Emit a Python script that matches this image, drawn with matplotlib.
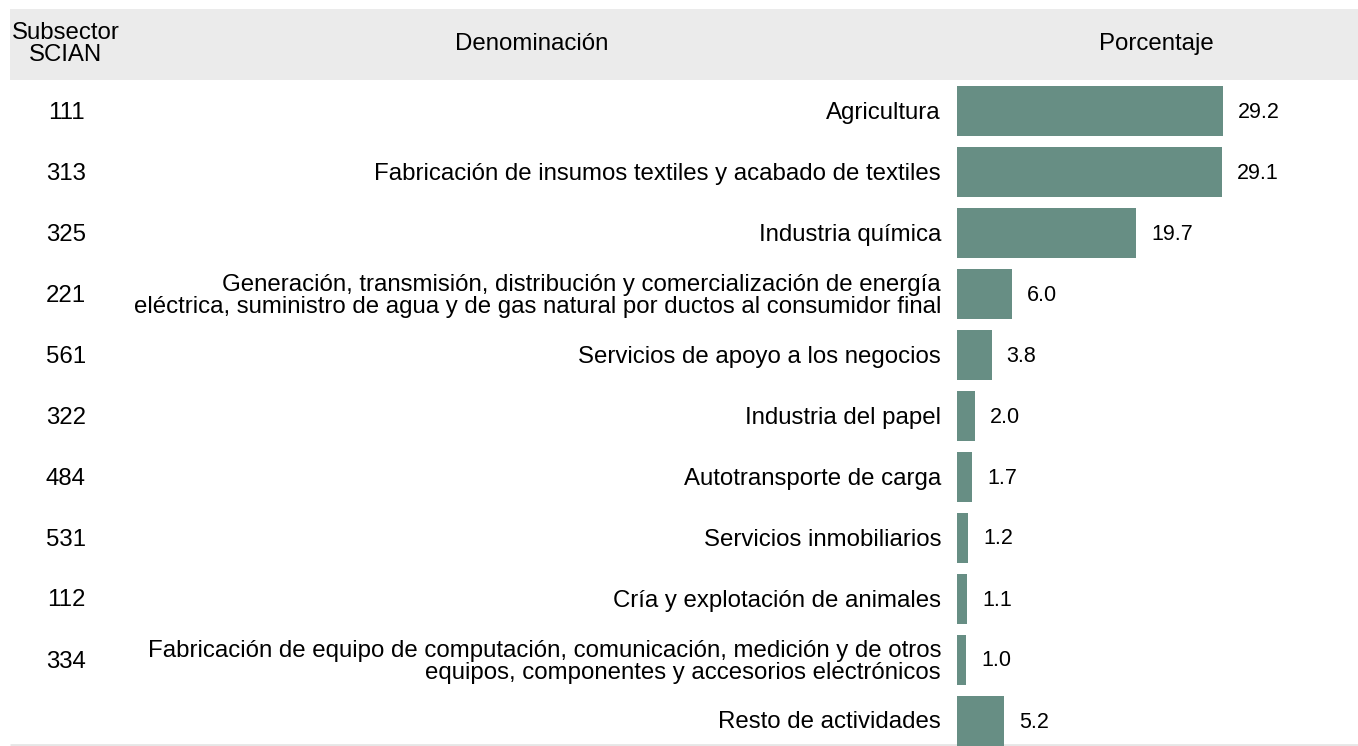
import matplotlib.pyplot as plt
import matplotlib.transforms as mtransforms
from matplotlib.patches import Rectangle

plt.rcParams['font.family'] = ['Liberation Sans', 'DejaVu Sans']

codes = ["111", "313", "325", "221", "561", "322", "484", "531", "112", "334", ""]
names = [
    "Agricultura",
    "Fabricación de insumos textiles y acabado de textiles",
    "Industria química",
    "Generación, transmisión, distribución y comercialización de energía\n"
    "eléctrica, suministro de agua y de gas natural por ductos al consumidor final",
    "Servicios de apoyo a los negocios",
    "Industria del papel",
    "Autotransporte de carga",
    "Servicios inmobiliarios",
    "Cría y explotación de animales",
    "Fabricación de equipo de computación, comunicación, medición y de otros\n"
    "equipos, componentes y accesorios electrónicos",
    "Resto de actividades",
]
values = [29.2, 29.1, 19.7, 6.0, 3.8, 2.0, 1.7, 1.2, 1.1, 1.0, 5.2]
headers = ["Subsector\nSCIAN", "Denominación", "Porcentaje"]

W, H = 1358, 746
bar_color = "#678e84"
fs = 17.3      # labels and headers
fs_val = 15.5  # value labels

fig = plt.figure(figsize=(W / 100, H / 100), dpi=100)

# background layer in pixel units
bg = fig.add_axes([0, 0, 1, 1])
bg.set_xlim(0, W)
bg.set_ylim(H, 0)
bg.axis("off")
bg.add_patch(Rectangle((10, 9), W - 10, 71, color="#ebebeb", lw=0))
bg.plot([10, W], [745, 745], color="#e6e6e6", lw=2, solid_capstyle="butt")

bg.text(66, 44, headers[0], ha="center", va="center", fontsize=fs, linespacing=1.02)
bg.text(532, 44, headers[1], ha="center", va="center", fontsize=fs)
bg.text(1156, 44, headers[2], ha="center", va="center", fontsize=fs)

# bars
x0 = 957
px_per_unit = 9.1
xmax = 40
ax = fig.add_axes([x0 / W, 0, xmax * px_per_unit / W, (H - 80) / H])
row = 61
ax.set_xlim(0, xmax)
ax.set_ylim(10 + 25 / row, -31 / row)
ax.axis("off")

ypos = list(range(len(values)))
ax.barh(ypos, values, height=50 / row, color=bar_color, edgecolor="none")

for y, v in zip(ypos, values):
    ax.annotate(f"{v:.1f}", (v, y), xytext=(15, -1), textcoords="offset pixels",
                ha="left", va="center", fontsize=fs_val)

trans = mtransforms.blended_transform_factory(bg.transData, ax.transData)
trans = mtransforms.offset_copy(trans, fig=fig, y=-1.5, units="dots")
for y, c, n in zip(ypos, codes, names):
    ax.text(66, y, c, transform=trans, ha="center", va="center", fontsize=fs)
    ax.text(941, y, n, transform=trans, ha="right", va="center",
            fontsize=fs, linespacing=1.0, multialignment="right")

fig.savefig("out.png", dpi=100)
